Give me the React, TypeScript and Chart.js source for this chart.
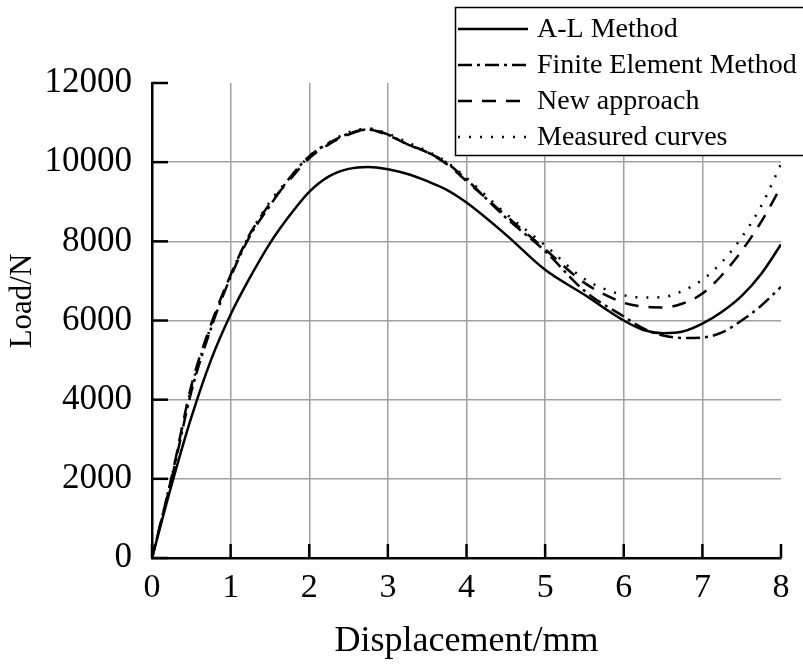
import React, { useEffect, useRef } from "react";
import { Chart, registerables } from "chart.js";

Chart.register(...registerables);

const displacement = [0, 0.25, 0.5, 0.75, 1, 1.25, 1.5, 1.75, 2, 2.25, 2.5, 2.75, 3, 3.25, 3.5, 3.75, 4, 4.5, 5, 5.5, 6, 6.25, 6.5, 6.75, 7, 7.25, 7.5, 7.75, 8];

const alMethod = [0, 1850, 3550, 5000, 6150, 7100, 7950, 8650, 9250, 9640, 9830, 9880, 9820, 9700, 9520, 9300, 8980, 8170, 7280, 6650, 6000, 5760, 5680, 5720, 5920, 6220, 6620, 7180, 7920];
const femMethod = [0, 2000, 4200, 5800, 7100, 8150, 8900, 9600, 10150, 10480, 10720, 10830, 10700, 10450, 10250, 9980, 9560, 8600, 7750, 6750, 6100, 5800, 5620, 5560, 5570, 5700, 6000, 6380, 6850];
const newApproach = [0, 2050, 4350, 5900, 7150, 8200, 8950, 9550, 10100, 10450, 10700, 10820, 10680, 10450, 10250, 9950, 9520, 8650, 7800, 6950, 6450, 6350, 6330, 6430, 6680, 7150, 7760, 8500, 9380];
const measured = [0, 2050, 4300, 5850, 7150, 8200, 9000, 9600, 10150, 10500, 10750, 10850, 10720, 10500, 10280, 10000, 9600, 8700, 7900, 7050, 6640, 6580, 6590, 6750, 7030, 7480, 8100, 8900, 9950];

const seriesNames = ["A-L Method", "Finite Element Method", "New approach", "Measured curves"];
const seriesValues = [alMethod, femMethod, newApproach, measured];
const seriesDashes: number[][] = [[], [14, 5, 3, 5], [14, 10], [2, 9]];

const xTickValues = [0, 1, 2, 3, 4, 5, 6, 7, 8];
const yTickValues = [0, 2000, 4000, 6000, 8000, 10000, 12000];

const xTitle = "Displacement/mm";
const yTitle = "Load/N";

const FONT = "'Liberation Serif', 'Times New Roman', serif";

const inwardTicks = {
  id: "inwardTicks",
  afterDatasetsDraw(chart: any) {
    const { ctx, chartArea, scales } = chart;
    ctx.save();
    ctx.strokeStyle = "#000";
    ctx.lineWidth = 2.5;
    ctx.setLineDash([]);
    xTickValues.forEach((v) => {
      const px = scales.x.getPixelForValue(v);
      ctx.beginPath();
      ctx.moveTo(px, chartArea.bottom);
      ctx.lineTo(px, chartArea.bottom - 14);
      ctx.stroke();
    });
    yTickValues.forEach((v) => {
      const py = scales.y.getPixelForValue(v);
      ctx.beginPath();
      ctx.moveTo(chartArea.left, py);
      ctx.lineTo(chartArea.left + 16, py);
      ctx.stroke();
    });
    ctx.fillStyle = "#000";
    ctx.font = `31px ${FONT}`;
    ctx.textAlign = "center";
    ctx.textBaseline = "middle";
    ctx.translate(23, 301);
    ctx.rotate(-Math.PI / 2);
    ctx.fillText(yTitle, 0, 0);
    ctx.restore();
  },
};

const boxLegend = {
  id: "boxLegend",
  afterDraw(chart: any) {
    const { ctx } = chart;
    ctx.save();
    ctx.fillStyle = "#fff";
    ctx.fillRect(455, 7, 360, 148);
    ctx.strokeStyle = "#000";
    ctx.lineWidth = 1.5;
    ctx.strokeRect(455.5, 7.5, 360, 148);
    chart.data.datasets.forEach((ds: any, i: number) => {
      const y = 29 + i * 36;
      ctx.strokeStyle = "#000";
      ctx.lineWidth = 2.5;
      ctx.setLineDash(ds.borderDash || []);
      ctx.beginPath();
      ctx.moveTo(458, y);
      ctx.lineTo(528, y);
      ctx.stroke();
      ctx.setLineDash([]);
      ctx.fillStyle = "#000";
      ctx.font = `28px ${FONT}`;
      ctx.textAlign = "left";
      ctx.textBaseline = "middle";
      ctx.fillText(ds.label, 537, y + 1);
    });
    ctx.restore();
  },
};

export default function App() {
  const ref = useRef<HTMLCanvasElement | null>(null);
  useEffect(() => {
    if (!ref.current) return;
    const datasets = seriesNames.map((name, i) => ({
      label: name,
      data: displacement.map((x, j) => ({ x, y: seriesValues[i][j] })),
      borderColor: "#000",
      backgroundColor: "#000",
      borderWidth: 2.5,
      borderDash: seriesDashes[i],
      pointRadius: 0,
      fill: false,
      cubicInterpolationMode: "monotone" as const,
    }));
    const chart = new Chart(ref.current, {
      type: "line",
      data: { datasets },
      options: {
        animation: false,
        responsive: false,
        layout: { padding: { top: 83, right: 22, left: 0, bottom: 0 } },
        plugins: { legend: { display: false }, tooltip: { enabled: false } },
        scales: {
          x: {
            type: "linear",
            min: 0,
            max: 8,
            afterBuildTicks: (scale: any) => {
              scale.ticks = xTickValues.map((v) => ({ value: v }));
            },
            afterFit: (scale: any) => {
              scale.height = 107;
            },
            ticks: {
              font: { family: FONT, size: 34 },
              color: "#000",
              padding: 10,
              maxRotation: 0,
              callback: (v: any) => String(v),
            },
            grid: {
              drawTicks: false,
              lineWidth: 1.5,
              color: (c: any) => (c.tick && (c.tick.value === 0 || c.tick.value === 8) ? "rgba(0,0,0,0)" : "#a0a0a0"),
            },
            border: { display: true, color: "#000", width: 2.5 },
            title: {
              display: true,
              text: xTitle,
              font: { family: FONT, size: 36 },
              color: "#000",
              padding: { top: 0, bottom: 2 },
            },
          },
          y: {
            type: "linear",
            min: 0,
            max: 12000,
            afterBuildTicks: (scale: any) => {
              scale.ticks = yTickValues.map((v) => ({ value: v }));
            },
            afterFit: (scale: any) => {
              scale.width = 152;
            },
            ticks: {
              font: { family: FONT, size: 35 },
              color: "#000",
              padding: 20,
              callback: (v: any) => String(v),
            },
            grid: {
              drawTicks: false,
              lineWidth: 1.5,
              color: (c: any) => (c.tick && (c.tick.value === 0 || c.tick.value === 12000) ? "rgba(0,0,0,0)" : "#a0a0a0"),
            },
            border: { display: true, color: "#000", width: 2.5 },
          },
        },
      },
      plugins: [inwardTicks, boxLegend],
    });
    return () => chart.destroy();
  }, []);
  return (
    <div style={{ position: "absolute", left: 0, top: 0, width: 803, height: 665, background: "#fff" }}>
      <canvas ref={ref} width={803} height={665} style={{ display: "block" }} />
    </div>
  );
}
